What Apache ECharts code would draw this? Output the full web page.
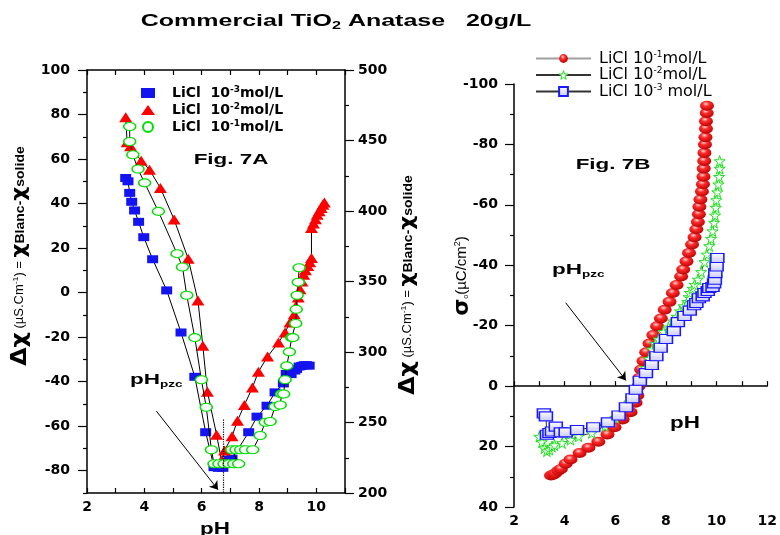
<!DOCTYPE html>
<html>
<head>
<meta charset="utf-8">
<script src="https://cdn.jsdelivr.net/npm/echarts@6/dist/echarts.min.js"></script>
<style>
  html, body { margin: 0; padding: 0; background: #fff; }
  #chart { width: 780px; height: 535px; }
</style>
</head>
<body>
<div id="chart"></div>
<script>
// ---- Fig. 7A : conductivity difference vs pH  [pH, Δχ (µS.cm-1)] ----
const condLiCl1e3 = [[3.35,51.5],[3.43,50.0],[3.49,44.8],[3.56,40.8],[3.66,36.9],[3.80,31.8],[3.98,24.9],[4.29,15.0],[4.78,1.0],[5.28,-17.9],[5.76,-37.8],[6.14,-62.7],[6.43,-78.4],[6.58,-78.7],[6.74,-78.7],[6.95,-75.0],[7.06,-74.6],[7.64,-62.7],[7.93,-55.7],[8.28,-50.8],[8.56,-44.8],[8.85,-40.8],[8.95,-36.5],[9.12,-36.6],[9.25,-35.0],[9.31,-34.3],[9.40,-33.2],[9.49,-32.9],[9.58,-32.6],[9.66,-32.6],[9.75,-32.8]];
const condLiCl1e2 = [[3.35,78.8],[3.40,67.5],[3.52,65.7],[3.89,59.2],[4.18,55.2],[4.56,47.0],[5.04,32.8],[5.53,15.2],[5.87,-3.5],[6.04,-23.9],[6.20,-44.5],[6.52,-63.8],[6.69,-75.4],[6.80,-70.9],[7.06,-64.5],[7.25,-57.5],[7.49,-50.5],[7.77,-42.6],[7.98,-35.5],[8.30,-28.7],[8.68,-22.4],[8.91,-17.9],[9.08,-13.4],[9.23,-9.7],[9.29,-6.0],[9.37,-2.2],[9.43,1.5],[9.50,5.0],[9.56,8.0],[9.62,10.0],[9.70,12.0],[9.77,13.7],[9.83,15.5],[9.83,29.0],[9.90,31.0],[9.97,33.0],[10.03,35.0],[10.10,36.5],[10.17,38.0],[10.23,39.5],[10.28,40.5]];
const condLiCl1e1 = [[3.49,74.6],[3.49,67.9],[3.60,61.9],[3.78,55.5],[4.01,49.3],[4.49,36.5],[5.14,17.5],[5.33,11.5],[5.48,-1.2],[5.76,-20.2],[5.99,-39.1],[6.16,-51.5],[6.34,-70.6],[6.43,-76.9],[6.60,-76.9],[6.78,-76.9],[6.95,-76.9],[7.12,-76.9],[7.29,-76.9],[7.05,-70.6],[7.20,-70.6],[7.36,-70.6],[7.53,-70.6],[7.78,-70.6],[8.04,-64.2],[8.22,-58.2],[8.39,-57.9],[8.56,-51.2],[8.74,-50.5],[8.79,-45.5],[8.86,-45.5],[8.91,-39.1],[8.97,-32.9],[9.06,-26.6],[9.14,-20.2],[9.18,-20.2],[9.28,-13.9],[9.30,-7.5],[9.33,-1.2],[9.37,4.7],[9.40,11.2]];

// ---- Fig. 7B : surface charge density vs pH  [pH, σo (µC/cm2)] ----
const chargeLiCl1e1 = [[3.46,29.6],[3.55,29.3],[3.62,28.9],[3.75,28.0],[3.85,27.4],[4.04,25.7],[4.23,24.3],[4.59,22.1],[4.94,20.4],[5.33,18.4],[5.69,16.0],[5.97,13.6],[6.29,11.0],[6.60,8.6],[6.80,5.5],[6.87,3.1],[6.92,0.0],[6.96,-2.8],[7.02,-5.5],[7.11,-8.3],[7.22,-11.2],[7.35,-14.1],[7.50,-16.9],[7.65,-19.8],[7.80,-22.4],[7.95,-25.3],[8.14,-27.9],[8.27,-30.8],[8.42,-33.5],[8.60,-36.3],[8.68,-38.6],[8.81,-41.3],[8.91,-44.1],[9.03,-46.9],[9.13,-49.3],[9.20,-51.9],[9.26,-54.3],[9.30,-56.9],[9.32,-59.4],[9.36,-61.8],[9.42,-64.4],[9.46,-66.8],[9.48,-69.3],[9.49,-72.0],[9.51,-74.5],[9.52,-77.2],[9.54,-80.0],[9.56,-82.4],[9.58,-85.2],[9.58,-87.7],[9.61,-90.4],[9.62,-92.8]];
const chargeLiCl1e2 = [[3.00,16.7],[3.10,18.5],[3.20,20.5],[3.30,21.5],[3.40,21.0],[3.50,20.0],[3.60,19.5],[3.90,18.8],[4.23,17.7],[4.55,16.6],[5.07,15.5],[5.59,13.2],[6.00,10.5],[6.36,6.6],[6.60,4.0],[6.80,1.5],[6.92,-0.5],[7.03,-2.2],[7.12,-4.0],[7.20,-6.1],[7.33,-9.1],[7.45,-12.2],[7.58,-14.0],[7.71,-15.5],[7.90,-18.0],[8.10,-19.5],[8.29,-21.5],[8.42,-23.0],[8.55,-24.8],[8.70,-26.5],[8.84,-27.9],[8.90,-29.5],[8.94,-30.9],[9.05,-32.3],[9.13,-33.6],[9.26,-35.3],[9.39,-37.8],[9.52,-41.1],[9.61,-43.6],[9.71,-46.4],[9.78,-48.8],[9.84,-51.3],[9.90,-54.1],[9.94,-56.5],[9.97,-59.1],[9.99,-61.6],[10.03,-64.2],[10.07,-66.8],[10.10,-69.3],[10.12,-72.0],[10.12,-74.5]];
const chargeLiCl1e3 = [[3.18,9.0],[3.26,10.0],[3.30,16.1],[3.40,15.5],[3.50,15.0],[3.65,13.4],[3.85,15.3],[4.04,15.3],[4.49,14.5],[5.13,13.6],[5.71,12.0],[6.13,9.7],[6.42,7.0],[6.68,4.0],[6.81,1.2],[6.97,-1.8],[7.21,-4.3],[7.44,-7.0],[7.62,-9.9],[7.79,-12.7],[8.00,-15.6],[8.31,-18.2],[8.47,-21.2],[8.73,-23.2],[8.94,-25.0],[9.11,-26.8],[9.20,-27.5],[9.30,-29.1],[9.45,-29.7],[9.52,-30.8],[9.65,-31.5],[9.71,-32.5],[9.84,-32.8],[9.90,-34.0],[9.93,-35.2],[9.95,-37.4],[10.00,-39.6],[10.03,-42.4]];

// ---- axis ticks ----
const phTicksA = [2, 3, 4, 5, 6, 7, 8, 9, 10, 11];
const phLabelsA = [2, 4, 6, 8, 10];
const condLabels = [-80, -60, -40, -20, 0, 20, 40, 60, 80, 100];
const condMinorTicks = [-90, -70, -50, -30, -10, 10, 30, 50, 70, 90];
const phTicksB = [2, 3, 4, 5, 6, 7, 8, 9, 10, 11, 12];
const phLabelsB = [2, 4, 6, 8, 10, 12];

// legend names
const nameA3 = 'LiCl  10-3mol/L', nameA2 = 'LiCl  10-2mol/L', nameA1 = 'LiCl  10-1mol/L';
const nameB1 = 'LiCl 10-1mol/L', nameB2 = 'LiCl 10-2mol/L', nameB3 = 'LiCl 10-3 mol/L';

const TICK_FONT = { fontFamily: 'DejaVu Sans', fontWeight: 'bold', fontSize: 14, color: '#000' };
const AXIS_LINE = { lineStyle: { color: '#000', width: 1.5 } };
const TICK_LINE = { color: '#000', width: 1.2 };
const STAR = 'path://M50,0 L61,35 L98,35 L68,57 L79,91 L50,70 L21,91 L32,57 L2,35 L39,35 Z';

const redSphere = { type: 'radial', x: 0.42, y: 0.32, r: 0.7, colorStops: [
  { offset: 0, color: '#ffd8d8' }, { offset: 0.35, color: '#ff2a2a' }, { offset: 1, color: '#b80000' }] };
const blueBox = { type: 'linear', x: 0, y: 0, x2: 0, y2: 1, colorStops: [
  { offset: 0, color: '#ffffff' }, { offset: 1, color: '#c8c8ff' }] };

function supLabel(name) {
  // turns "10-3" into 10 with a raised exponent
  const m = name.match(/^(.*10)(-\d)(.*)$/);
  return '{f|' + m[1] + '}{s|' + m[2] + '}{t|' + m[3] + '}';
}

const chart = echarts.init(document.getElementById('chart'), null, { renderer: 'canvas' });

const option = {
  animation: false,
  backgroundColor: '#fff',
  grid: [
    { left: 87, top: 70, width: 258, height: 423 },
    { left: 514, top: 84, width: 258, height: 423 }
  ],
  xAxis: [
    { gridIndex: 0, type: 'value', position: 'bottom', min: 2, max: 11,
      axisLine: { onZero: false, ...AXIS_LINE },
      axisTick: { inside: true, length: 5, customValues: phTicksA, lineStyle: TICK_LINE },
      axisLabel: { customValues: phLabelsA, margin: 7, ...TICK_FONT },
      splitLine: { show: false } },
    { gridIndex: 0, type: 'value', position: 'top', min: 2, max: 11,
      axisLine: { onZero: false, ...AXIS_LINE },
      axisTick: { inside: true, length: 5, customValues: phTicksA, lineStyle: TICK_LINE },
      axisLabel: { show: false },
      splitLine: { show: false } },
    { gridIndex: 1, type: 'value', position: 'bottom', min: 2, max: 12,
      axisLine: { onZero: true, ...AXIS_LINE },
      axisTick: { inside: true, length: 5, customValues: phTicksB, lineStyle: TICK_LINE },
      axisLabel: { customValues: phLabelsB, margin: 7, ...TICK_FONT },
      splitLine: { show: false } }
  ],
  yAxis: [
    { gridIndex: 0, type: 'value', position: 'left', min: -90, max: 100,
      axisLine: { show: true, onZero: false, ...AXIS_LINE },
      axisTick: { show: true, length: 9, customValues: condLabels, lineStyle: TICK_LINE },
      axisLabel: { customValues: condLabels, margin: 17, ...TICK_FONT },
      splitLine: { show: false } },
    { gridIndex: 0, type: 'value', position: 'left', min: -90, max: 100,
      axisLine: { show: false, onZero: false },
      axisTick: { show: true, length: 4, customValues: condMinorTicks, lineStyle: TICK_LINE },
      axisLabel: { show: false },
      splitLine: { show: false } },
    { gridIndex: 0, type: 'value', position: 'right', min: 200, max: 500, interval: 50,
      axisLine: { show: true, onZero: false, ...AXIS_LINE },
      axisTick: { show: true, length: 9, lineStyle: TICK_LINE },
      minorTick: { show: true, splitNumber: 2, length: 4, lineStyle: TICK_LINE },
      axisLabel: { margin: 13, ...TICK_FONT },
      splitLine: { show: false } },
    { gridIndex: 1, type: 'value', position: 'left', inverse: true, min: -100, max: 40, interval: 20,
      axisLine: { show: true, onZero: false, ...AXIS_LINE },
      axisTick: { show: true, length: 9, lineStyle: TICK_LINE },
      minorTick: { show: true, splitNumber: 2, length: 4, lineStyle: TICK_LINE },
      axisLabel: { margin: 16, ...TICK_FONT },
      splitLine: { show: false } }
  ],
  legend: [
    { orient: 'vertical', left: 136, top: 80, itemWidth: 14, itemHeight: 10, itemGap: 2,
      data: [{ name: nameA3, icon: 'rect' }, { name: nameA2, icon: 'triangle' }, { name: nameA1, icon: 'circle' }],
      formatter: n => supLabel(n),
      textStyle: { rich: {
        f: { fontFamily: 'DejaVu Sans', fontWeight: 'bold', fontSize: 14, color: '#000', padding: [0, 0, 0, 12] },
        t: { fontFamily: 'DejaVu Sans', fontWeight: 'bold', fontSize: 14, color: '#000' },
        s: { fontFamily: 'DejaVu Sans', fontWeight: 'bold', fontSize: 9, color: '#000', padding: [0, 0, 7, 0] }
      } } },
    { orient: 'vertical', left: 530, top: 45, itemWidth: 55, itemHeight: 11, itemGap: 0,
      data: [
        { name: nameB1 },
        { name: nameB2, itemStyle: { color: '#ffffff', borderColor: '#1ee01e', borderWidth: 1 } },
        { name: nameB3 }
      ],
      formatter: n => supLabel(n),
      textStyle: { rich: {
        f: { fontFamily: 'DejaVu Sans', fontSize: 16, color: '#000', padding: [0, 0, 0, 3] },
        t: { fontFamily: 'DejaVu Sans', fontSize: 16, color: '#000' },
        s: { fontFamily: 'DejaVu Sans', fontSize: 9, color: '#000', padding: [0, 0, 8, 0] }
      } } }
  ],
  series: [
    { name: nameA3, type: 'line', xAxisIndex: 0, yAxisIndex: 0, data: condLiCl1e3,
      showAllSymbol: true, symbol: 'rect', symbolSize: [11, 8],
      itemStyle: { color: '#1414f0' }, lineStyle: { color: '#000', width: 1 }, z: 2,
      markLine: { silent: true, symbol: ['none', 'arrow'], symbolSize: 8, label: { show: false },
        lineStyle: { color: '#000', width: 1, type: 'solid' },
        data: [
          [{ coord: [4.42, -53.2] }, { coord: [6.57, -88.5] }],
          [{ coord: [6.75, -57], symbol: 'none', lineStyle: { type: 'dotted', width: 1.2 } },
           { coord: [6.75, -90], symbol: 'none' }]
        ] } },
    { name: nameA2, type: 'line', xAxisIndex: 0, yAxisIndex: 0, data: condLiCl1e2,
      showAllSymbol: true, symbol: 'triangle', symbolSize: [13, 10],
      itemStyle: { color: '#ff0000' }, lineStyle: { color: '#000', width: 1 }, z: 3 },
    { name: nameA1, type: 'line', xAxisIndex: 0, yAxisIndex: 0, data: condLiCl1e1,
      showAllSymbol: true, symbol: 'circle', symbolSize: [12, 8],
      itemStyle: { color: '#ffffff', borderColor: '#00e000', borderWidth: 1.3 },
      lineStyle: { color: '#000', width: 1 }, z: 4 },

    { name: nameB1, type: 'line', xAxisIndex: 2, yAxisIndex: 3, data: chargeLiCl1e1,
      showAllSymbol: true, symbol: 'circle', symbolSize: [14, 10],
      itemStyle: { color: redSphere },
      lineStyle: { color: '#a0a0a0', width: 1.5 }, z: 2,
      markLine: { silent: true, symbol: ['none', 'arrow'], symbolSize: 8, label: { show: false },
        lineStyle: { color: '#000', width: 1, type: 'solid' },
        data: [[{ coord: [4.04, -27.6] }, { coord: [6.42, -1.9] }]] } },
    { name: nameB2, type: 'line', xAxisIndex: 2, yAxisIndex: 3, data: chargeLiCl1e2,
      showAllSymbol: true, symbol: STAR, symbolSize: 11,
      itemStyle: { color: '#f2fff2', borderColor: '#1ee01e', borderWidth: 1 },
      lineStyle: { color: '#333', width: 1 }, z: 3 },
    { name: nameB3, type: 'line', xAxisIndex: 2, yAxisIndex: 3, data: chargeLiCl1e3,
      showAllSymbol: true, symbol: 'rect', symbolSize: [13, 9],
      itemStyle: { color: blueBox, borderColor: '#1a1aff', borderWidth: 1.3 },
      lineStyle: { color: '#333', width: 1 }, z: 4 }
  ],
  graphic: [
    { type: 'text', x: 336, y: 21, scaleX: 1.47, z: 10,
      style: { text: '{t|Commercial TiO}{s|2}{t| Anatase   20g/L}', align: 'center', verticalAlign: 'middle',
        rich: { t: { fontFamily: 'Liberation Sans', fontWeight: 'bold', fontSize: 17, fill: '#000' },
                s: { fontFamily: 'Liberation Sans', fontWeight: 'bold', fontSize: 11, fill: '#000', padding: [9, 0, 0, 0] } } } },
    { type: 'text', x: 231, y: 160, scaleX: 1.6, z: 10,
      style: { text: 'Fig. 7A', align: 'center', verticalAlign: 'middle',
        font: 'bold 14px "Liberation Sans"', fill: '#000' } },
    { type: 'text', x: 613, y: 165, scaleX: 1.6, z: 10,
      style: { text: 'Fig. 7B', align: 'center', verticalAlign: 'middle',
        font: 'bold 14px "Liberation Sans"', fill: '#000' } },
    { type: 'text', x: 130, y: 380, scaleX: 1.5, z: 10,
      style: { text: '{p|pH}{s|pzc}', align: 'left', verticalAlign: 'middle',
        rich: { p: { fontFamily: 'Liberation Sans', fontWeight: 'bold', fontSize: 15, fill: '#000' },
                s: { fontFamily: 'Liberation Sans', fontWeight: 'bold', fontSize: 9, fill: '#000', padding: [10, 0, 0, 0] } } } },
    { type: 'text', x: 552, y: 270, scaleX: 1.5, z: 10,
      style: { text: '{p|pH}{s|pzc}', align: 'left', verticalAlign: 'middle',
        rich: { p: { fontFamily: 'Liberation Sans', fontWeight: 'bold', fontSize: 15, fill: '#000' },
                s: { fontFamily: 'Liberation Sans', fontWeight: 'bold', fontSize: 9, fill: '#000', padding: [10, 0, 0, 0] } } } },
    { type: 'text', x: 215, y: 530, scaleX: 1.4, z: 10,
      style: { text: 'pH', align: 'center', verticalAlign: 'middle',
        font: 'bold 16px "Liberation Sans"', fill: '#000' } },
    { type: 'text', x: 685, y: 424, scaleX: 1.4, z: 10,
      style: { text: 'pH', align: 'center', verticalAlign: 'middle',
        font: 'bold 16px "Liberation Sans"', fill: '#000' } },
    // Δχ axis titles (left and right axes of Fig. 7A)
    { type: 'text', x: 20, y: 256, rotation: Math.PI / 2, scaleX: 1.08, z: 10,
      style: { text: '{d|Δχ}{n| (µS.Cm}{e|-1}{n|) = }{c|χ}{b|Blanc-}{c|χ}{b|solide}', align: 'center', verticalAlign: 'middle',
        rich: { d: { fontFamily: 'DejaVu Sans', fontWeight: 'bold', fontSize: 22, fill: '#000' },
                n: { fontFamily: 'Liberation Sans', fontSize: 12, fill: '#000' },
                e: { fontFamily: 'Liberation Sans', fontSize: 8, fill: '#000', padding: [0, 0, 8, 0] },
                c: { fontFamily: 'DejaVu Sans', fontWeight: 'bold', fontSize: 20, fill: '#000' },
                b: { fontFamily: 'Liberation Sans', fontWeight: 'bold', fontSize: 13, fill: '#000' } } } },
    { type: 'text', x: 408, y: 285, rotation: Math.PI / 2, scaleX: 1.08, z: 10,
      style: { text: '{d|Δχ}{n| (µS.Cm}{e|-1}{n|) = }{c|χ}{b|Blanc-}{c|χ}{b|solide}', align: 'center', verticalAlign: 'middle',
        rich: { d: { fontFamily: 'DejaVu Sans', fontWeight: 'bold', fontSize: 22, fill: '#000' },
                n: { fontFamily: 'Liberation Sans', fontSize: 12, fill: '#000' },
                e: { fontFamily: 'Liberation Sans', fontSize: 8, fill: '#000', padding: [0, 0, 8, 0] },
                c: { fontFamily: 'DejaVu Sans', fontWeight: 'bold', fontSize: 20, fill: '#000' },
                b: { fontFamily: 'Liberation Sans', fontWeight: 'bold', fontSize: 13, fill: '#000' } } } },
    // σo axis title of Fig. 7B
    { type: 'text', x: 462, y: 276, rotation: Math.PI / 2, z: 10,
      style: { text: '{g|σ}{o|o}{n|(µC/cm}{e|2}{n|)}', align: 'center', verticalAlign: 'middle',
        rich: { g: { fontFamily: 'DejaVu Sans', fontWeight: 'bold', fontSize: 22, fill: '#000' },
                o: { fontFamily: 'Liberation Sans', fontSize: 7, fill: '#000', padding: [8, 0, 0, 0] },
                n: { fontFamily: 'Liberation Sans', fontSize: 15, fill: '#000' },
                e: { fontFamily: 'Liberation Sans', fontSize: 9, fill: '#000', padding: [0, 0, 9, 0] } } } }
  ]
};

chart.setOption(option);
</script>
</body>
</html>
